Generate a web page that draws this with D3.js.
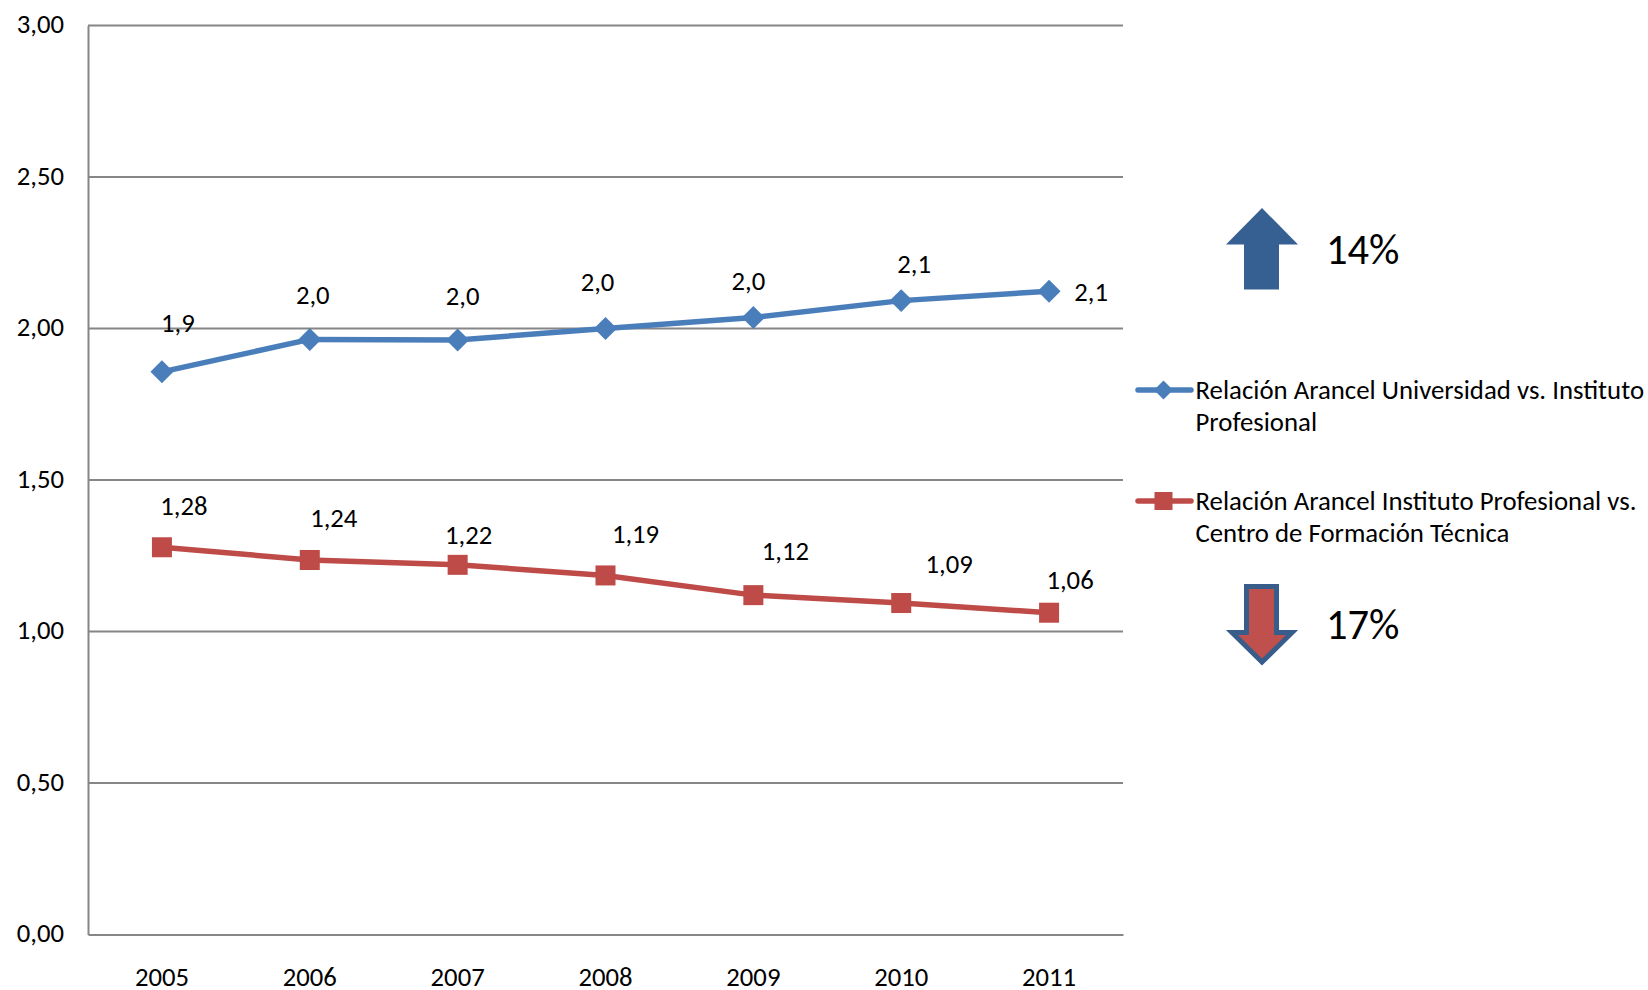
<!DOCTYPE html>
<html><head><meta charset="utf-8">
<script src="https://cdn.jsdelivr.net/npm/d3@7"></script>
<style>html,body{margin:0;background:#fff}svg{display:block}text{font-family:Carlito,Calibri,Lato,sans-serif;fill:#000}</style>
</head><body><svg id="c" width="1648" height="990"></svg>
<script>
const years = ["2005","2006","2007","2008","2009","2010","2011"];
const yTicks = [0,0.5,1,1.5,2,2.5,3];
const universidad = [1.857,1.964,1.962,2.0,2.036,2.092,2.123];
const instituto = [1.278,1.236,1.22,1.185,1.12,1.094,1.062];
const universidadLabels = ["1,9","2,0","2,0","2,0","2,0","2,1","2,1"];
const institutoLabels = ["1,28","1,24","1,22","1,19","1,12","1,09","1,06"];
const legendA = ["Relación Arancel Universidad vs. Instituto","Profesional"];
const legendB = ["Relación Arancel Instituto Profesional vs.","Centro de Formación Técnica"];
const changeUp = "14%", changeDown = "17%";

// label placement relative to each point (layout, not data)
const offsetA = [[16,-49],[3,-44],[5,-44],[-8,-47],[-5,-37],[13,-37],[42,1]];
const offsetB = [[22,-41],[24,-42],[11,-30],[30,-41],[32,-44],[48,-39],[21,-33]];

const svg = d3.select("#c");
const FS = 26.7, axisCol = "#868686";
const x = d3.scaleBand().domain(years).range([88,1123]);
const y = d3.scaleLinear().domain([0,3]).range([934.5,25.5]);
const cx = d => x(d)+x.bandwidth()/2;

svg.append("g").selectAll("line").data(yTicks.filter(d=>d>0)).join("line")
  .attr("x1",88).attr("x2",1123).attr("y1",y).attr("y2",y)
  .attr("stroke",axisCol).attr("stroke-width",2);

const yAxis = d3.axisLeft(y).tickValues(yTicks).tickSize(0).tickPadding(24)
  .tickFormat(d=>d3.format(".2f")(d).replace(".",","));
const gy = svg.append("g").attr("transform","translate(88,0)").call(yAxis);
gy.select(".domain").attr("stroke",axisCol).attr("stroke-width",2);
gy.selectAll("text").attr("font-size",FS).attr("font-family",null).attr("dy","0.27em");

const xAxis = d3.axisBottom(x).tickSize(0).tickPadding(33);
const gx = svg.append("g").attr("transform","translate(0,934.5)").call(xAxis);
gx.select(".domain").attr("stroke",axisCol).attr("stroke-width",2);
gx.selectAll("text").attr("font-size",FS).attr("font-family",null);

const line = d3.line().x((d,i)=>cx(years[i])).y(d=>y(d));
const BLUE="#4a7ebb", RED="#be4b48";
const drawDiamond=(g,px,py)=>g.append("path").attr("d",d3.symbol(d3.symbolDiamond2,337)()).attr("transform",`translate(${px},${py})`).attr("fill",BLUE);
const drawSquare=(g,px,py)=>g.append("rect").attr("x",px-10).attr("y",py-10).attr("width",20).attr("height",20).attr("fill",RED);

function series(vals,col,draw,labels,off){
  const g=svg.append("g");
  g.append("path").attr("d",line(vals)).attr("fill","none").attr("stroke",col).attr("stroke-width",5.5).attr("stroke-linejoin","round");
  vals.forEach((v,i)=>draw(g,cx(years[i]),y(v)));
  g.selectAll("text").data(labels).join("text")
    .attr("x",(d,i)=>cx(years[i])+off[i][0])
    .attr("y",(d,i)=>y(vals[i])+off[i][1])
    .attr("text-anchor","middle").attr("dominant-baseline","central").attr("font-size",FS).text(d=>d);
}
series(universidad,BLUE,drawDiamond,universidadLabels,offsetA);
series(instituto,RED,drawSquare,institutoLabels,offsetB);

function legend(lines,ly,col,draw){
  const g=svg.append("g");
  g.append("line").attr("x1",1138).attr("x2",1191).attr("y1",ly).attr("y2",ly).attr("stroke",col).attr("stroke-width",5.5).attr("stroke-linecap","round");
  draw(g,1163.5,ly);
  lines.forEach((t,i)=>g.append("text").attr("x",1195.5).attr("y",ly+9+i*32).attr("font-size",26.8).text(t));
}
legend(legendA,390,BLUE,(g,a,b)=>g.append("path").attr("d",d3.symbol(d3.symbolDiamond2,230)()).attr("transform",`translate(${a},${b})`).attr("fill",BLUE));
legend(legendB,501,RED,(g,a,b)=>g.append("rect").attr("x",a-9).attr("y",b-9).attr("width",18).attr("height",18).attr("fill",RED));

svg.append("path").attr("d","M1262,208L1298,244.5H1279V289.5H1244V244.5H1226Z").attr("fill","#376092");
svg.append("path").attr("d","M1246.5,586.5H1276.5V632.5H1292L1262,662L1232,632.5H1246.5Z")
  .attr("fill","#c0504d").attr("stroke","#385d8a").attr("stroke-width",5);
svg.append("text").attr("x",1326).attr("y",263.5).attr("font-size",42.5).text(changeUp);
svg.append("text").attr("x",1326).attr("y",638.5).attr("font-size",42.5).text(changeDown);
</script></body></html>
